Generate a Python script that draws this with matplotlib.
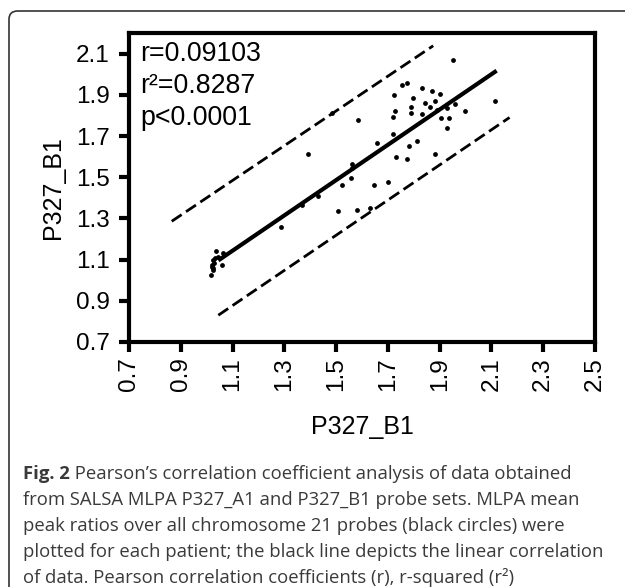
import matplotlib
matplotlib.use("Agg")
import matplotlib.pyplot as plt
from matplotlib.patches import FancyBboxPatch

# ---- data ----
x_vals = [1.952, 2.113, 1.753, 1.772, 1.830, 1.869, 1.901, 1.843, 1.881, 1.798,
          1.723, 1.959, 1.997, 1.791, 1.862, 1.888, 1.727, 1.791, 1.830, 1.721,
          1.927, 1.907, 1.937, 1.929, 1.585, 1.483, 1.718, 1.659, 1.811, 1.782,
          1.731, 1.772, 1.881, 1.392, 1.560, 1.560, 1.521, 1.556, 1.646, 1.701,
          1.506, 1.579, 1.631, 1.367, 1.431, 1.287, 1.036, 1.062, 1.058, 1.023,
          1.028, 1.019, 1.026, 1.015, 1.032, 1.045, 1.020, 1.024]
y_vals = [2.070, 1.869, 1.950, 1.958, 1.933, 1.917, 1.904, 1.861, 1.869, 1.885,
          1.898, 1.856, 1.821, 1.840, 1.840, 1.824, 1.821, 1.813, 1.808, 1.792,
          1.834, 1.785, 1.785, 1.737, 1.777, 1.813, 1.711, 1.668, 1.676, 1.652,
          1.599, 1.587, 1.615, 1.611, 1.563, 1.547, 1.463, 1.494, 1.463, 1.475,
          1.334, 1.341, 1.351, 1.365, 1.410, 1.260, 1.144, 1.132, 1.072, 1.096,
          1.083, 1.064, 1.051, 1.024, 1.109, 1.115, 1.075, 1.060]

fit_x = [1.045, 2.12]
fit_y = [1.096, 2.017]
upper_x = [0.865, 1.875]
upper_y = [1.286, 2.138]
lower_x = [1.045, 2.17]
lower_y = [0.830, 1.790]

x_ticks = [0.7, 0.9, 1.1, 1.3, 1.5, 1.7, 1.9, 2.1, 2.3, 2.5]
y_ticks = [0.7, 0.9, 1.1, 1.3, 1.5, 1.7, 1.9, 2.1]
stats_lines = ["r=0.09103", "r\u00b2=0.8287", "p<0.0001"]
x_label = "P327_B1"
y_label = "P327_B1"
caption_bold = "Fig. 2"
caption_lines = [
    " Pearson\u2019s correlation coefficient analysis of data obtained",
    "from SALSA MLPA P327_A1 and P327_B1 probe sets. MLPA mean",
    "peak ratios over all chromosome 21 probes (black circles) were",
    "plotted for each patient; the black line depicts the linear correlation",
    "of data. Pearson correlation coefficients (r), r-squared (r\u00b2)",
]

W, H = 625, 587
fig = plt.figure(figsize=(W / 100, H / 100), dpi=100)
fig.patch.set_facecolor("white")

# outer frame (rounded top-left corner, continues past right/bottom edge)
frame = FancyBboxPatch((9 / W, -20 / H), (W + 40) / W, (H - 11 + 20) / H,
                       boxstyle="round,pad=0,rounding_size=0.014",
                       transform=fig.transFigure, fill=False,
                       edgecolor="#333333", linewidth=1.2, zorder=0)
fig.patches.append(frame)

ax = fig.add_axes([129 / W, 1 - 342 / H, 466 / W, 309 / H])
font = "Liberation Sans"

ax.scatter(x_vals, y_vals, s=12, color="black", zorder=3, linewidths=0)
ax.plot(fit_x, fit_y, color="black", lw=3.0, solid_capstyle="butt", zorder=2)
ax.plot(upper_x, upper_y, color="black", lw=2.0, dashes=(4.3, 1.9), zorder=2)
ax.plot(lower_x, lower_y, color="black", lw=2.0, dashes=(4.3, 1.9), zorder=2)

ax.set_xlim(0.7, 2.5)
ax.set_ylim(0.7, 2.2)
ax.set_xticks(x_ticks)
ax.set_yticks(y_ticks)
ax.set_xticklabels([f"{v:.1f}" for v in x_ticks], rotation=90, fontfamily=font, fontsize=17.5)
ax.set_yticklabels([f"{v:.1f}" for v in y_ticks], fontfamily=font, fontsize=17.5)
ax.tick_params(direction="out", length=7, width=3, colors="black")
ax.tick_params(axis="y", pad=7)
ax.tick_params(axis="x", pad=4)
for sp in ax.spines.values():
    sp.set_linewidth(3)

ax.set_xlabel(x_label, fontfamily=font, fontsize=18, labelpad=17)
ax.set_ylabel(y_label, fontfamily=font, fontsize=18, labelpad=8)

for i, s in enumerate(stats_lines):
    ax.text(11 / 466, 1 - (8 + 32 * i) / 309, s, transform=ax.transAxes,
            ha="left", va="top", fontfamily=font, fontsize=19.3)

# caption
cap_font = "Open Sans"
cap_color = "#3a3a3a"
cap_size = 13.3
line_y = [479, 505, 531, 557, 583]
t0 = fig.text(23 / W, 1 - line_y[0] / H, caption_bold, fontfamily=cap_font,
              fontweight="bold", fontsize=cap_size, color=cap_color, va="baseline", ha="left")
fig.canvas.draw()
r = fig.canvas.get_renderer()
bb = t0.get_window_extent(renderer=r)
fig.text(bb.x1 / W, 1 - line_y[0] / H, caption_lines[0], fontfamily=cap_font,
         fontsize=cap_size, color=cap_color, va="baseline", ha="left")
for ly, s in zip(line_y[1:], caption_lines[1:]):
    fig.text(23 / W, 1 - ly / H, s, fontfamily=cap_font, fontsize=cap_size,
             color=cap_color, va="baseline", ha="left")

fig.savefig("out.png", dpi=100)
